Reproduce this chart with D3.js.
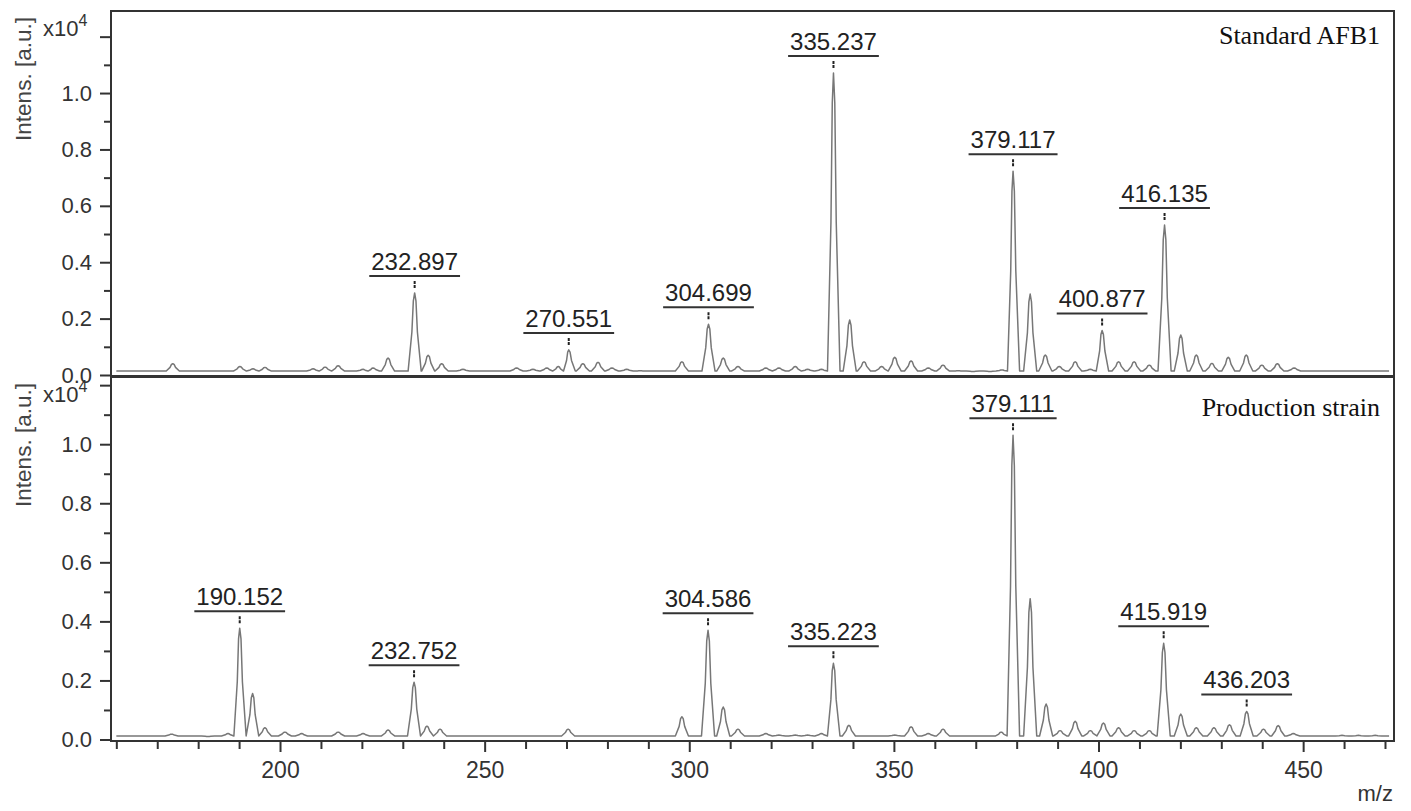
<!DOCTYPE html>
<html>
<head>
<meta charset="utf-8">
<script src="https://cdn.jsdelivr.net/npm/d3@7"></script>
<style>
  body { margin: 0; background: #fff; }
  svg { display: block; font-family: Arial, "Liberation Sans", sans-serif; }
</style>
</head>
<body>
<svg id="chart" width="1411" height="811"></svg>
<script>
  // peaks: [m/z, intensity x10^4]
  var afbPeaks = [
    [173.8, 0.040], [190.2, 0.030], [193.4, 0.022], [196.3, 0.027], [201.0, 0.014],
    [208.1, 0.022], [211.0, 0.028], [214.2, 0.033], [220.3, 0.020], [222.7, 0.025],
    [226.4, 0.060], [232.897, 0.291], [236.2, 0.070], [239.5, 0.040], [244.7, 0.020],
    [257.8, 0.025], [261.8, 0.020], [265.2, 0.025], [268.0, 0.030], [270.551, 0.089],
    [274.0, 0.040], [277.7, 0.045], [281.1, 0.025], [284.7, 0.020], [288.0, 0.015],
    [298.2, 0.047], [304.699, 0.180], [308.3, 0.060], [311.9, 0.030], [318.7, 0.025],
    [321.9, 0.025], [325.9, 0.030], [328.9, 0.020], [332.3, 0.020], [335.237, 1.071],
    [339.2, 0.195], [342.7, 0.047], [347.0, 0.030], [350.2, 0.063], [354.2, 0.050],
    [358.4, 0.025], [362.0, 0.035], [365.7, 0.015], [369.3, 0.012], [373.5, 0.012],
    [376.4, 0.018], [379.117, 0.723], [383.3, 0.287], [387.0, 0.071], [390.4, 0.030],
    [394.3, 0.047], [398.0, 0.020], [400.877, 0.158], [404.9, 0.047], [408.7, 0.047],
    [412.4, 0.035], [416.135, 0.532], [420.1, 0.142], [423.9, 0.071], [427.7, 0.041],
    [431.7, 0.063], [436.1, 0.071], [439.9, 0.035], [443.7, 0.040], [447.8, 0.025],
    [452.0, 0.014], [456.0, 0.014], [460.0, 0.014], [464.0, 0.014], [468.0, 0.014]
  ]
  var strainPeaks = [
    [173.5, 0.018], [182.4, 0.010], [187.3, 0.020], [190.152, 0.377], [193.3, 0.156],
    [196.3, 0.040], [201.2, 0.025], [205.3, 0.020], [208.1, 0.012], [214.2, 0.025],
    [220.3, 0.020], [226.4, 0.032], [232.752, 0.194], [235.9, 0.045], [239.1, 0.035],
    [258.2, 0.012], [264.3, 0.012], [270.4, 0.035], [277.4, 0.012], [284.3, 0.012],
    [298.2, 0.077], [304.586, 0.370], [308.3, 0.110], [311.9, 0.035], [318.7, 0.020],
    [321.9, 0.015], [325.9, 0.015], [328.9, 0.015], [332.3, 0.020], [335.223, 0.258],
    [339.0, 0.048], [347.0, 0.012], [350.2, 0.015], [354.2, 0.043], [358.4, 0.020],
    [362.0, 0.035], [365.7, 0.012], [369.3, 0.012], [373.5, 0.012], [376.2, 0.025],
    [379.111, 1.030], [383.3, 0.477], [387.2, 0.120], [390.6, 0.030], [394.3, 0.062],
    [398.0, 0.030], [401.2, 0.056], [404.9, 0.040], [408.7, 0.030], [412.4, 0.030],
    [415.919, 0.326], [420.1, 0.086], [423.9, 0.040], [428.2, 0.040], [432.0, 0.050],
    [436.203, 0.095], [440.3, 0.035], [443.9, 0.047], [447.6, 0.020], [451.7, 0.012],
    [455.8, 0.012], [459.5, 0.014], [463.5, 0.014], [467.6, 0.014]
  ]
  var afbLabels = [232.897, 270.551, 304.699, 335.237, 379.117, 400.877, 416.135]
  var strainLabels = [190.152, 232.752, 304.586, 335.223, 379.111, 415.919, 436.203]
  var panelNames = ['Standard AFB1', 'Production strain']
  var baseLevels = [0.014, 0.012]
  var yTicks = [0, 0.2, 0.4, 0.6, 0.8, 1.0, 1.2]
  var yMinor = [0.1, 0.3, 0.5, 0.7, 0.9, 1.1]
  var xTicks = [200, 250, 300, 350, 400, 450]
  var xMinor = d3.range(160, 471, 10).filter(function (d) { return d % 50 !== 0 })

  var svg = d3.select('#chart')
  var left = 111, right = 1394
  var lineColor = '#777'
  var inkColor = '#333'

  var x = d3.scaleLinear().domain([158.7, 472.2]).range([left, right])

  var panels = [
    { top: 11, bottom: 376, zero: 375, ymax: 1.291, peaks: afbPeaks, labels: afbLabels },
    { top: 377, bottom: 741, zero: 739.5, ymax: 1.2276, peaks: strainPeaks, labels: strainLabels }
  ]

  // spectrum outline: each peak drawn as a narrow spike on the baseline
  function spectrum(peaks, base) {
    var pts = [[160, base]]
    peaks.forEach(function (p, i) {
      var prev = i ? peaks[i - 1][0] : -Infinity
      var next = i < peaks.length - 1 ? peaks[i + 1][0] : Infinity
      var wl = Math.min(1.6, (p[0] - prev) / 2)
      var wr = Math.min(1.6, (next - p[0]) / 2)
      var h = p[1] - base
      pts.push([p[0] - wl, base], [p[0] - wl * 0.42, base + h * 0.5],
        [p[0] - wl * 0.2, base + h * 0.9], [p[0], p[1]],
        [p[0] + wr * 0.2, base + h * 0.9], [p[0] + wr * 0.42, base + h * 0.5],
        [p[0] + wr, base])
    })
    pts.push([471, base])
    return pts
  }

  function peakHeight(peaks, mz) {
    return peaks.find(function (p) { return p[0] === mz })[1]
  }

  panels.forEach(function (pn, k) {
    var y = d3.scaleLinear().domain([0, pn.ymax]).range([pn.zero, pn.top])
    var g = svg.append('g')

    var line = d3.line()
      .x(function (d) { return x(d[0]) })
      .y(function (d) { return y(d[1]) })

    g.append('path')
      .datum(spectrum(pn.peaks, baseLevels[k]))
      .attr('d', line)
      .attr('fill', 'none')
      .attr('stroke', lineColor)
      .attr('stroke-width', 1.5)
      .attr('stroke-linejoin', 'round')

    // frame
    g.append('rect')
      .attr('x', left).attr('y', pn.top)
      .attr('width', right - left).attr('height', pn.bottom - pn.top)
      .attr('fill', 'none').attr('stroke', inkColor).attr('stroke-width', 2)

    // y axis
    var ya = g.append('g').attr('transform', 'translate(' + left + ',0)')
      .call(d3.axisLeft(y).tickValues(yTicks).tickSize(11).tickPadding(8)
        .tickFormat(function (d) { return d > 1.1 ? '' : d3.format('.1f')(d) }))
    var ym = g.append('g').attr('transform', 'translate(' + left + ',0)')
      .call(d3.axisLeft(y).tickValues(yMinor).tickSize(7).tickFormat(''))
    ;[ya, ym].forEach(function (a) {
      a.select('.domain').remove()
      a.selectAll('line').attr('stroke', inkColor).attr('stroke-width', 2)
    })
    ya.selectAll('text').attr('fill', inkColor).style('font-size', '22px')

    var sc = g.append('text')
      .attr('x', 43).attr('y', pn.top + 25)
      .attr('fill', inkColor).style('font-size', '22px')
    sc.append('tspan').text('x10')
    sc.append('tspan').attr('dy', -10).style('font-size', '16px').text('4')

    g.append('text')
      .attr('transform', 'translate(31,' + (pn.top + 68) + ') rotate(-90)')
      .attr('text-anchor', 'middle')
      .attr('fill', '#444').style('font-size', '22.5px')
      .text('Intens. [a.u.]')

    g.append('text')
      .attr('x', 1380).attr('y', pn.top + (k ? 39 : 33))
      .attr('text-anchor', 'end')
      .style('font-family', '"Liberation Serif", "Times New Roman", serif')
      .style('font-size', '26px')
      .attr('fill', '#111')
      .text(panelNames[k])

    // peak annotations
    pn.labels.forEach(function (mz) {
      var px = x(mz)
      var py = y(peakHeight(pn.peaks, mz))
      var t = g.append('text')
        .attr('x', px).attr('y', py - 23)
        .attr('text-anchor', 'middle')
        .attr('fill', '#222').style('font-size', '24px')
        .text(mz.toFixed(3))
      var w = t.node().getComputedTextLength()
      g.append('line')
        .attr('x1', px - w / 2 - 2).attr('x2', px + w / 2 + 2)
        .attr('y1', py - 17).attr('y2', py - 17)
        .attr('stroke', inkColor).attr('stroke-width', 2)
      g.append('line')
        .attr('x1', px).attr('x2', px)
        .attr('y1', py - 12).attr('y2', py - 5)
        .attr('stroke', '#222').attr('stroke-width', 2)
        .attr('stroke-dasharray', '3,1')
    })
  })

  // x axis under the lower panel
  var xa = svg.append('g').attr('transform', 'translate(0,741)')
    .call(d3.axisBottom(x).tickValues(xTicks).tickSize(11).tickPadding(10))
  var xm = svg.append('g').attr('transform', 'translate(0,741)')
    .call(d3.axisBottom(x).tickValues(xMinor).tickSize(8).tickFormat(''))
  ;[xa, xm].forEach(function (a) {
    a.select('.domain').remove()
    a.selectAll('line').attr('stroke', inkColor).attr('stroke-width', 2)
  })
  xa.selectAll('text').attr('fill', inkColor).style('font-size', '23px')

  svg.append('text')
    .attr('x', 1393).attr('y', 801)
    .attr('text-anchor', 'end')
    .attr('fill', inkColor).style('font-size', '22px')
    .text('m/z')
</script>
</body>
</html>
